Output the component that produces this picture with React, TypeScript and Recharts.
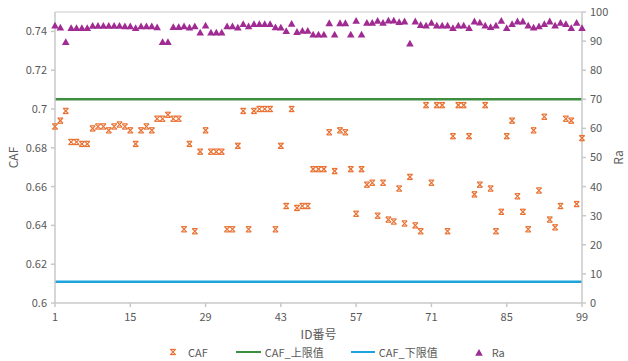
import React from "react"
import { ComposedChart, Line, Scatter, XAxis, YAxis, ReferenceLine } from "recharts"

const cafValues = [
  0.691, 0.694, 0.699, 0.683, 0.683, 0.682, 0.682, 0.690, 0.691, 0.691,
  0.689, 0.691, 0.692, 0.691, 0.689, 0.682, 0.689, 0.691, 0.689, 0.695,
  0.695, 0.697, 0.695, 0.695, 0.638, 0.682, 0.637, 0.678, 0.689, 0.678,
  0.678, 0.678, 0.638, 0.638, 0.681, 0.699, 0.638, 0.699, 0.700, 0.700,
  0.700, 0.638, 0.681, 0.650, 0.700, 0.649, 0.650, 0.650, 0.669, 0.669,
  0.669, 0.688, 0.668, 0.689, 0.688, 0.669, 0.646, 0.669, 0.661, 0.662,
  0.645, 0.662, 0.643, 0.642, 0.659, 0.641, 0.665, 0.640, 0.637, 0.702,
  0.662, 0.702, 0.702, 0.637, 0.686, 0.702, 0.702, 0.686, 0.656, 0.661,
  0.702, 0.659, 0.637, 0.647, 0.686, 0.694, 0.655, 0.647, 0.638, 0.689,
  0.658, 0.696, 0.643, 0.639, 0.650, 0.695, 0.694, 0.651, 0.685,
]

const raValues = [
  95.3, 94.6, 89.6, 94.4, 94.4, 94.4, 94.4, 95.2, 95.2, 95.2,
  95.2, 95.2, 95.2, 95.0, 95.0, 94.4, 95.0, 95.0, 95.0, 94.7,
  89.6, 89.6, 94.8, 94.8, 95.0, 94.6, 95.0, 92.9, 95.3, 92.9,
  92.9, 92.9, 95.0, 95.0, 94.6, 95.8, 95.0, 95.8, 95.8, 95.8,
  95.8, 94.7, 94.6, 93.4, 95.9, 93.1, 93.5, 93.5, 92.2, 92.2,
  92.2, 96.1, 92.2, 96.1, 96.1, 92.2, 96.9, 92.2, 96.2, 96.2,
  96.9, 96.2, 97.0, 97.0, 96.5, 96.7, 89.1, 96.7, 95.5, 95.3,
  96.2, 95.3, 95.3, 95.3, 94.4, 95.3, 95.3, 94.4, 96.7, 96.3,
  95.3, 94.8, 95.3, 96.9, 94.4, 95.8, 96.7, 96.7, 95.3, 94.6,
  95.0, 95.8, 96.7, 95.3, 96.2, 95.8, 94.4, 96.2, 94.4,
]

const cafUpper = 0.705
const cafLower = 0.611

const xTicks = [1, 15, 29, 43, 57, 71, 85, 99]
const leftTicks = [0.6, 0.62, 0.64, 0.66, 0.68, 0.7, 0.72, 0.74]
const rightTicks = [0, 10, 20, 30, 40, 50, 60, 70, 80, 90, 100]

const data = cafValues.map((caf, i) => ({
  id: i + 1,
  caf,
  ra: raValues[i],
  upper: cafUpper,
  lower: cafLower,
}))

const ORANGE = "#E97132"
const GREEN = "#3E8E41"
const BLUE = "#1FA3DC"
const PURPLE = "#A02B93"
const AXIS = "#C8C8C8"
const TEXT = "#595959"
const FONT = '"Noto Sans CJK SC", "Noto Sans", sans-serif'

// hourglass-style "x" marker
const CafMark = (props: any) => {
  const { cx, cy } = props
  if (cx == null || cy == null) return null
  const r = 2.6
  return (
    <g stroke={ORANGE} strokeWidth={1.2} fill="none">
      <line x1={cx - r} y1={cy - r} x2={cx + r} y2={cy + r} />
      <line x1={cx + r} y1={cy - r} x2={cx - r} y2={cy + r} />
      <line x1={cx - r} y1={cy - r} x2={cx + r} y2={cy - r} />
      <line x1={cx - r} y1={cy + r} x2={cx + r} y2={cy + r} />
    </g>
  )
}

const RaMark = (props: any) => {
  const { cx, cy } = props
  if (cx == null || cy == null) return null
  return (
    <polygon
      points={`${cx},${cy - 4} ${cx + 3.8},${cy + 2.8} ${cx - 3.8},${cy + 2.8}`}
      fill={PURPLE}
    />
  )
}

const tickStyle = { fontSize: 11, fill: TEXT, fontFamily: FONT }

function LegendRow() {
  const item = { display: "flex", alignItems: "center" }
  return (
    <div
      style={{
        position: "absolute",
        top: 344,
        left: 168,
        display: "flex",
        alignItems: "center",
        fontSize: 11,
        color: TEXT,
        fontFamily: FONT,
        height: 16,
      }}
    >
      <div style={item}>
        <svg width={10} height={10}>
          <CafMark cx={5} cy={5} />
        </svg>
        <span style={{ marginLeft: 10 }}>CAF</span>
      </div>
      <div style={{ ...item, marginLeft: 28 }}>
        <div style={{ width: 25, height: 2.5, background: GREEN }} />
        <span style={{ marginLeft: 4 }}>CAF_上限值</span>
      </div>
      <div style={{ ...item, marginLeft: 27 }}>
        <div style={{ width: 24, height: 2.5, background: BLUE }} />
        <span style={{ marginLeft: 4 }}>CAF_下限值</span>
      </div>
      <div style={{ ...item, marginLeft: 36 }}>
        <svg width={10} height={10}>
          <RaMark cx={5} cy={6} />
        </svg>
        <span style={{ marginLeft: 8 }}>Ra</span>
      </div>
    </div>
  )
}

export default function App() {
  return (
    <div style={{ position: "relative", width: 628, height: 361, background: "#fff" }}>
      <style>{`body{margin:0}`}</style>
      <ComposedChart
        width={628}
        height={361}
        data={data}
        margin={{ top: 12, right: 0, bottom: 22, left: 0 }}
      >
        <XAxis
          dataKey="id"
          type="number"
          domain={[1, 99]}
          ticks={xTicks}
          interval={0}
          height={36}
          stroke={AXIS}
          strokeWidth={1.5}
          tickSize={4}
          tickMargin={6}
          tick={tickStyle}
          label={{ value: "ID番号", position: "insideBottom", offset: 0, style: { fontSize: 12, fill: TEXT, fontFamily: FONT } }}
        />
        <YAxis
          yAxisId="left"
          domain={[0.6, 0.75]}
          ticks={leftTicks}
          interval={0}
          width={55}
          stroke={AXIS}
          strokeWidth={1.5}
          tickSize={4}
          tickMargin={4}
          tick={tickStyle}
          label={{ value: "CAF", angle: -90, position: "insideLeft", offset: 14, style: { fontSize: 12, fill: TEXT, fontFamily: FONT, textAnchor: "middle" } }}
        />
        <YAxis
          yAxisId="right"
          orientation="right"
          domain={[0, 100]}
          ticks={rightTicks}
          interval={0}
          width={46}
          stroke={AXIS}
          strokeWidth={1.5}
          tickSize={4}
          tickMargin={4}
          tick={tickStyle}
          label={{ value: "Ra", angle: -90, position: "insideRight", offset: 9, style: { fontSize: 12, fill: TEXT, fontFamily: FONT, textAnchor: "middle" } }}
        />
        <ReferenceLine yAxisId="left" y={0.75} stroke="#DDDDDD" strokeWidth={1.5} />
        <Line
          yAxisId="left"
          dataKey="upper"
          stroke={GREEN}
          strokeWidth={2.5}
          dot={false}
          activeDot={false}
          isAnimationActive={false}
        />
        <Line
          yAxisId="left"
          dataKey="lower"
          stroke={BLUE}
          strokeWidth={2.5}
          dot={false}
          activeDot={false}
          isAnimationActive={false}
        />
        <Scatter yAxisId="left" dataKey="caf" shape={<CafMark />} isAnimationActive={false} />
        <Scatter yAxisId="right" dataKey="ra" shape={<RaMark />} isAnimationActive={false} />
      </ComposedChart>
      <LegendRow />
    </div>
  )
}
